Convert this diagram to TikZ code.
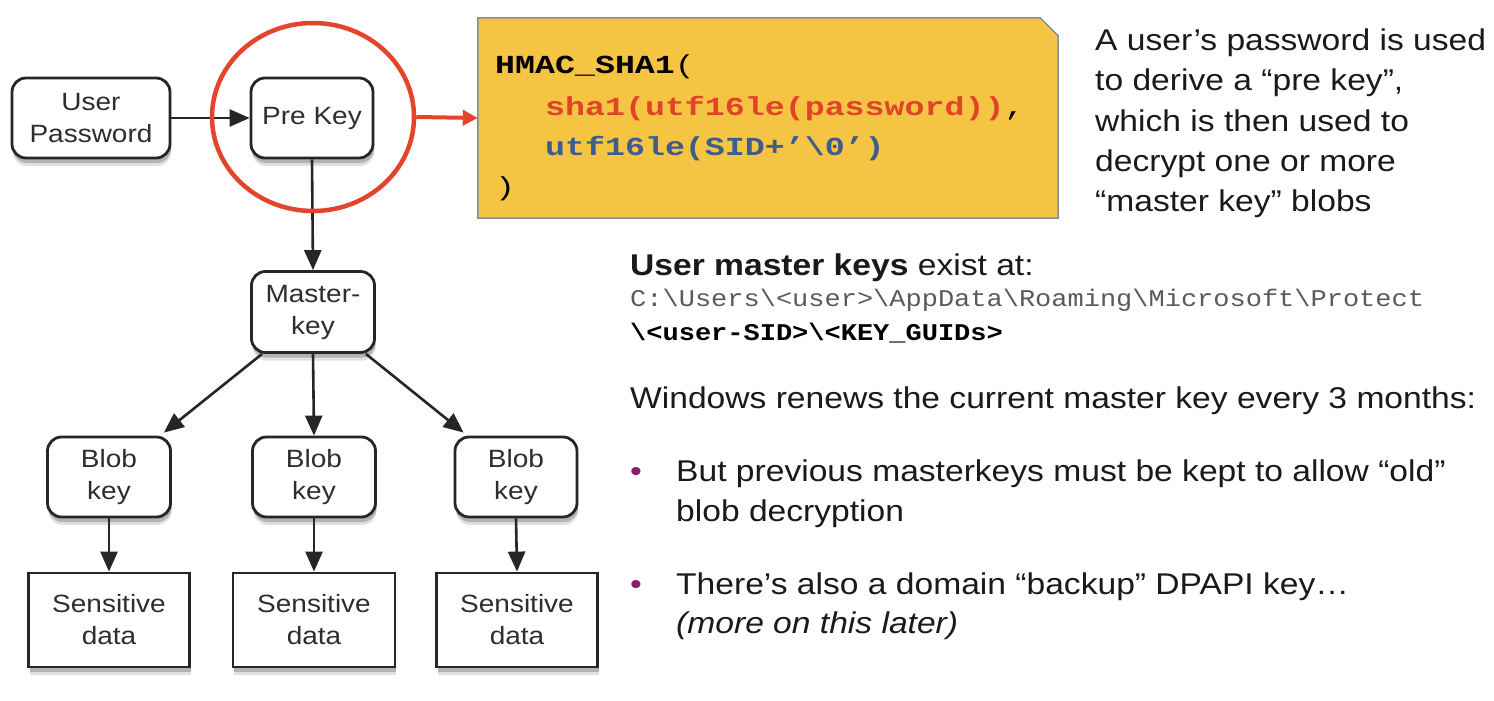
\documentclass[tikz,border=0pt]{standalone}
\usepackage{fontspec}
\usetikzlibrary{arrows.meta,shadows,shapes.geometric}
\newfontfamily\dsans[FakeStretch=1.12]{Liberation Sans}
\newfontfamily\codefont[FakeStretch=1.28]{Liberation Mono}
\newfontfamily\pathfont[FakeStretch=1.125]{Liberation Mono}
\definecolor{linegray}{HTML}{262626}
\definecolor{boxtext}{HTML}{2E2E2E}
\definecolor{circred}{HTML}{E2452C}
\definecolor{codeyellow}{HTML}{F6C443}
\definecolor{codeborder}{HTML}{8090A0}
\definecolor{codered}{HTML}{E0432A}
\definecolor{codeblue}{HTML}{3D5D8C}
\definecolor{maintext}{HTML}{1A1A1A}
\definecolor{pathgray}{HTML}{5A5A5A}
\definecolor{bulletpurple}{HTML}{8C1C66}
\begin{document}
\begin{tikzpicture}[x=1pt,y=-1pt,
  boxshadow/.style={drop shadow={shadow xshift=1pt,shadow yshift=-8pt,fill=black,opacity=0.12},
                    drop shadow={shadow xshift=1pt,shadow yshift=-5pt,fill=black,opacity=0.2}},
  rbox/.style={draw=linegray,line width=2.8pt,rounded corners=14pt,fill=white,boxshadow,
    align=center,text=boxtext,font=\dsans\fontsize{25}{32}\selectfont,inner sep=0pt},
  sbox/.style={draw=linegray,line width=2.8pt,fill=white,boxshadow,
    align=center,text=boxtext,font=\dsans\fontsize{25}{32}\selectfont,inner sep=0pt},
  arr/.style={draw=linegray,line width=2.6pt,-{Triangle[length=20pt,width=17pt]}},
  redarr/.style={draw=circred,line width=4pt,-{Triangle[length=15pt,width=15pt]}},
  codetxt/.style={anchor=base west,inner sep=0pt,font=\codefont\fontsize{26}{40}\selectfont},
  txt/.style={anchor=base west,inner sep=0pt,text=maintext,font=\dsans\fontsize{30}{40}\selectfont},
  pathtxt/.style={anchor=base west,inner sep=0pt,font=\pathfont\fontsize{24}{34}\selectfont},
  bullet/.style={anchor=base west,inner sep=0pt,text=bulletpurple,font=\dsans\fontsize{30}{40}\selectfont}]
\useasboundingbox (0,0) rectangle (1494,701);
\fill[white] (0,0) rectangle (1494,701);

% left diagram
\node[rbox,minimum width=158pt,minimum height=80pt] (up) at (91,118) {User\\Password};
\node[rbox,minimum width=122pt,minimum height=80pt] (pk) at (312,118) {Pre Key};
\node[rbox,minimum width=123pt,minimum height=81pt] (mk) at (313,312) {Master-\\key};
\node[rbox,minimum width=123pt,minimum height=80pt] (bk1) at (109,477) {Blob\\key};
\node[rbox,minimum width=123pt,minimum height=80pt] (bk2) at (314,477) {Blob\\key};
\node[rbox,minimum width=122pt,minimum height=80pt] (bk3) at (516,477) {Blob\\key};
\node[sbox,minimum width=161pt,minimum height=94pt] (sd1) at (109,620) {Sensitive\\data};
\node[sbox,minimum width=162pt,minimum height=94pt] (sd2) at (314,620) {Sensitive\\data};
\node[sbox,minimum width=161pt,minimum height=94pt] (sd3) at (517,620) {Sensitive\\data};

\draw[arr] (up.east) -- (pk.west);
\draw[arr] (pk.south) -- (mk.north);
\draw[arr] ([xshift=12pt]mk.south west) -- ([xshift=-8pt,yshift=3pt]bk1.north east);
\draw[arr] (mk.south) -- (bk2.north);
\draw[arr] ([xshift=-10pt]mk.south east) -- ([xshift=10pt,yshift=3pt]bk3.north west);
\draw[arr] (bk1.south) -- (sd1.north);
\draw[arr] (bk2.south) -- (sd2.north);
\draw[arr] (bk3.south) -- (sd3.north);

% highlight circle
\node[ellipse,draw=circred,line width=4.5pt,minimum width=202pt,minimum height=188pt,inner sep=0pt] (circ) at (313,117) {};

% code box
\node[minimum width=580pt,minimum height=200pt,inner sep=0pt] (code) at (768,118) {};
\draw[fill=codeyellow,draw=codeborder,line width=1.5pt]
  (code.north west) -- ([xshift=-18pt]code.north east) -- ([yshift=-18pt]code.north east)
  -- (code.south east) -- (code.south west) -- cycle;
\draw[redarr] (circ.east) -- (code.west);

\node[codetxt] (c1) at (495,74) {\textbf{HMAC\_SHA1}(};
\node[codetxt] (c2) at (545,115) {\textcolor{codered}{\textbf{sha1(utf16le(password))}},};
\node[codetxt] (c3) at (545,155) {\textcolor{codeblue}{\textbf{utf16le(SID+’\textbackslash 0’)}}};
\node[codetxt] (c4) at (495,195) {)};

% right text
\node[txt] (t1) at (1095,51) {A user’s password is used};
\node[txt] (t2) at (1095,91) {to derive a “pre key”,};
\node[txt] (t3) at (1095,131) {which is then used to};
\node[txt] (t4) at (1095,171) {decrypt one or more};
\node[txt] (t5) at (1095,211) {“master key” blobs};

\node[txt] (u1) at (630,275) {\textbf{User master keys} exist at:};
\node[pathtxt,text=pathgray] (u2) at (630,306) {C:\textbackslash Users\textbackslash <user>\textbackslash AppData\textbackslash Roaming\textbackslash Microsoft\textbackslash Protect};
\node[pathtxt,text=black] (u3) at (630,340) {\textbf{\textbackslash<user-SID>\textbackslash<KEY\_GUIDs>}};

\node[txt] (w1) at (630,408) {Windows renews the current master key every 3 months:};
\node[bullet] (b1) at (630,481) {•};
\node[txt] (w2) at (676,481) {But previous masterkeys must be kept to allow “old”};
\node[txt] (w3) at (676,521) {blob decryption};
\node[bullet] (b2) at (630,594) {•};
\node[txt] (w4) at (676,594) {There’s also a domain “backup” DPAPI key…};
\node[txt] (w5) at (676,633) {\textit{(more on this later)}};
\end{tikzpicture}
\end{document}
